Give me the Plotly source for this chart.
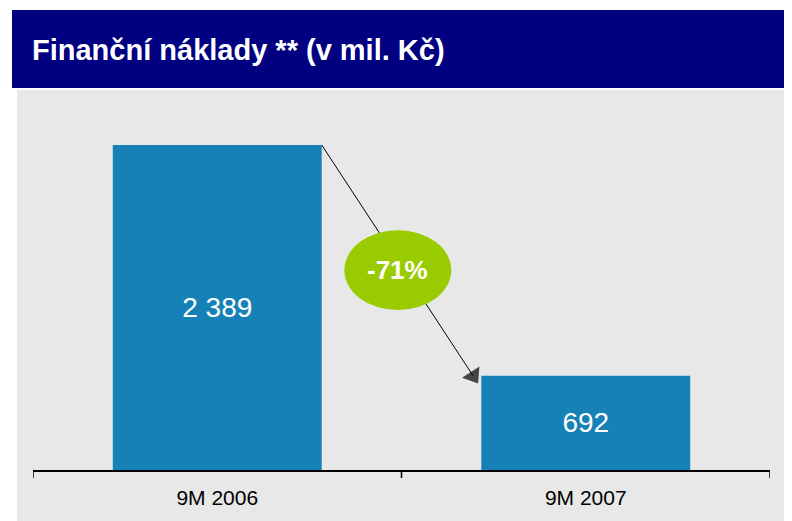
import plotly.graph_objects as go

categories = ["9M 2006", "9M 2007"]
values = [2389, 692]
bar_labels = ["2 389", "692"]
title_text = "Finanční náklady ** (v mil. Kč)"

BAR_COLOR = "#1681B6"
NAVY = "#000080"
GRAY = "#E8E8E8"
GREEN = "#99CC00"
BAR_W = 0.567

change = round((values[1] / values[0] - 1) * 100)

fig = go.Figure()
fig.add_trace(go.Bar(
    x=[0, 1], y=values, width=BAR_W, marker_color=BAR_COLOR, marker_line_width=0,
    text=bar_labels, textposition="inside", insidetextanchor="middle",
    textfont=dict(color="white", size=28, family="Liberation Sans, Arial"),
    hoverinfo="skip", showlegend=False,
))

# arrow line from bar1 top-right corner toward bar2 top-left corner
x_start = 0 + BAR_W / 2
x_end = 1 - BAR_W / 2 - 0.022
fig.add_trace(go.Scatter(
    x=[x_start, x_end], y=[values[0], values[1]], mode="lines+markers",
    line=dict(color="black", width=1),
    marker=dict(symbol=["circle", "triangle-up"], size=[0.1, 18], color="black",
                angleref="previous", line_width=0),
    hoverinfo="skip", showlegend=False, cliponaxis=False,
))

ymax = values[0] * 370 / 325
ell_cx = 0.49
ell_cy = values[0] * 0.615

shapes = [
    dict(type="rect", xref="paper", yref="paper", x0=-0.0217, x1=1.04, y0=-0.2, y1=1.027,
         fillcolor=GRAY, line_width=0, layer="below"),
    dict(type="rect", xref="paper", yref="paper", x0=-0.0285, x1=1.04, y0=1.0324, y1=1.243,
         fillcolor=NAVY, line_width=0, layer="below"),
    dict(type="circle", xref="x", yref="y", x0=ell_cx - 0.145, x1=ell_cx + 0.145,
         y0=ell_cy - 294, y1=ell_cy + 294, fillcolor=GREEN, line_width=0, layer="above"),
]
# category boundary ticks
for xb in [-0.5, 0.5, 1.5]:
    shapes.append(dict(type="line", xref="x", yref="paper", x0=xb, x1=xb, y0=0, y1=-8 / 370,
                       line=dict(color="black", width=1.5)))

annotations = [
    dict(text=f"<b>{title_text}</b>", xref="paper", yref="paper", x=-0.004, y=1.135,
         xanchor="left", yanchor="middle", showarrow=False,
         font=dict(color="white", size=29, family="Liberation Sans, Arial")),
    dict(text=f"<b>{change}%</b>", xref="x", yref="y", x=ell_cx, y=ell_cy,
         xanchor="center", yanchor="middle", showarrow=False,
         font=dict(color="white", size=26, family="Liberation Sans, Arial")),
]

fig.update_layout(
    width=792, height=521,
    margin=dict(l=25, r=30, t=92, b=59),
    paper_bgcolor="white", plot_bgcolor="rgba(0,0,0,0)",
    shapes=shapes, annotations=annotations,
    xaxis=dict(range=[-0.5, 1.5], tickvals=[0, 1], ticktext=categories,
               showline=True, linecolor="black", linewidth=1.5,
               ticks="outside", ticklen=8, tickcolor="rgba(0,0,0,0)",
               showgrid=False, zeroline=False,
               tickfont=dict(color="black", size=21, family="Liberation Sans, Arial")),
    yaxis=dict(range=[0, ymax], visible=False, showgrid=False, zeroline=False),
    bargap=0.433,
)

fig.write_html("out.html")
